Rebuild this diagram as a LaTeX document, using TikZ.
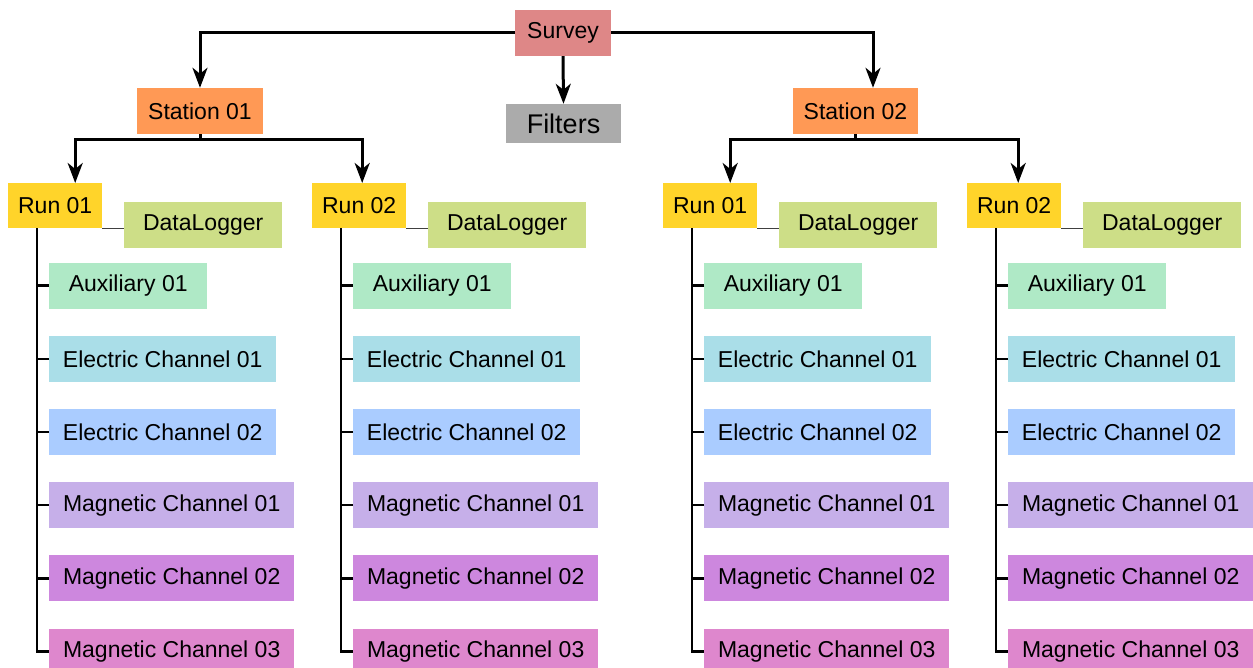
\documentclass[tikz,border=0pt]{standalone}
\usepackage{fontspec}
\setmainfont{Liberation Sans}
\usetikzlibrary{positioning,arrows.meta}

\definecolor{surveyc}{HTML}{DE8787}
\definecolor{stationc}{HTML}{FF9955}
\definecolor{filterc}{HTML}{ABABAB}
\definecolor{runc}{HTML}{FFD42A}
\definecolor{loggerc}{HTML}{CDDE87}
\definecolor{auxc}{HTML}{AFE9C6}
\definecolor{eonec}{HTML}{AADEE8}
\definecolor{etwoc}{HTML}{AACCFF}
\definecolor{monec}{HTML}{C6AFE9}
\definecolor{mtwoc}{HTML}{CD87DE}
\definecolor{mthreec}{HTML}{DE87CD}

\tikzset{
  box/.style={rectangle,inner sep=0pt,minimum height=46pt,font=\fontsize{23}{27}\selectfont},
  runbox/.style={box,fill=runc,minimum width=94pt,minimum height=45pt},
  dlbox/.style={box,fill=loggerc,minimum width=158pt},
  chbox/.style={box,anchor=north west},
}

\begin{document}
\begin{tikzpicture}[x=1pt,y=-1pt,
  arr/.style={-{Stealth[length=20pt,width=15pt,inset=6pt]},line width=3pt},
  trunk/.style={line width=2.5pt},
  link/.style={line width=1.5pt,black!75}]
  \useasboundingbox (0,0) rectangle (1253,668);

  % top of the tree
  \node[box,fill=surveyc,minimum width=96pt] (survey) at (563,33) {Survey};
  \node[box,fill=filterc,minimum width=115pt,minimum height=39pt,font=\fontsize{27}{31}\selectfont] (filters) at (563.5,123.5) {Filters};
  \node[box,fill=stationc,minimum width=126pt] (st1) at (200,111) {Station 01};
  \node[box,fill=stationc,minimum width=125pt] (st2) at (855.5,111) {Station 02};

  \draw[arr] (survey.west) -| (st1.north);
  \draw[arr] (survey.east) -| ([xshift=17.5pt]st2.north);
  \draw[arr] (survey.south) -- (filters.north);

  % runs with their logger and channels
  \foreach \c/\x/\n in {a/8/01,b/312/02,c/663/01,d/967/02}{
    \node[runbox,anchor=north west] (run\c) at (\x,183) {Run \n};
    \node[dlbox,anchor=north west] (dl\c) at (\x+116,202) {DataLogger};
    \node[chbox,fill=auxc,minimum width=158pt,below=34pt of run\c.south west,xshift=41pt,anchor=north west] (aux\c) {Auxiliary 01};
    \node[chbox,fill=eonec,minimum width=227pt,below=26.8pt of aux\c.south west,anchor=north west] (eone\c) {Electric Channel 01};
    \node[chbox,fill=etwoc,minimum width=227pt,below=26.8pt of eone\c.south west,anchor=north west] (etwo\c) {Electric Channel 02};
    \node[chbox,fill=monec,minimum width=245pt,below=26.8pt of etwo\c.south west,anchor=north west] (mone\c) {Magnetic Channel 01};
    \node[chbox,fill=mtwoc,minimum width=245pt,below=26.8pt of mone\c.south west,anchor=north west] (mtwo\c) {Magnetic Channel 02};
    \node[chbox,fill=mthreec,minimum width=245pt,below=26.8pt of mtwo\c.south west,anchor=north west] (mthree\c) {Magnetic Channel 03};

    \draw[link] (run\c.south east) -- (run\c.south east -| dl\c.west);
    \draw[trunk] ([xshift=29pt]run\c.south west) |- (mthree\c.west);
    \foreach \k in {aux,eone,etwo,mone,mtwo}
      \draw[trunk] (\k\c.west) -- ++(-12,0);
  }

  % stations to runs
  \draw[arr] (st1.south) -- ++(0,5) -| ([xshift=20pt]runa.north);
  \draw[arr] (st1.south) -- ++(0,5) -| ([xshift=3pt]runb.north);
  \draw[arr] (st2.south) -- ++(0,5) -| ([xshift=20pt]runc.north);
  \draw[arr] (st2.south) -- ++(0,5) -| ([xshift=4pt]rund.north);
\end{tikzpicture}
\end{document}
